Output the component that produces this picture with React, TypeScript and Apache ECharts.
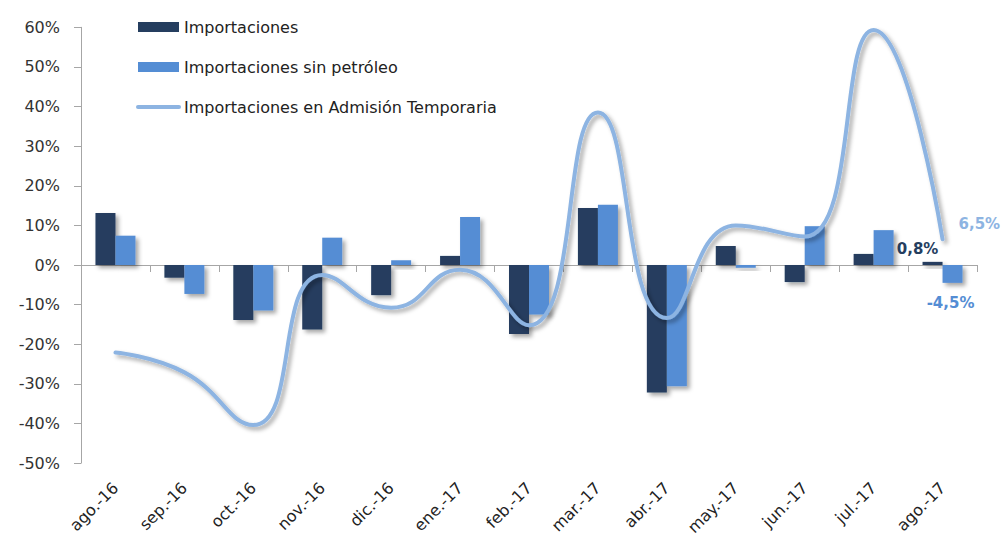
import React, { useEffect, useRef } from "react";
import * as echarts from "echarts";

const categories = [
  "ago.-16", "sep.-16", "oct.-16", "nov.-16", "dic.-16", "ene.-17", "feb.-17",
  "mar.-17", "abr.-17", "may.-17", "jun.-17", "jul.-17", "ago.-17",
];
const importaciones = [13.1, -3.2, -13.9, -16.3, -7.6, 2.3, -17.4, 14.4, -32.2, 4.8, -4.3, 2.8, 0.8];
const sinPetroleo = [7.4, -7.3, -11.5, 6.9, 1.2, 12.1, -12.5, 15.2, -30.6, -0.7, 9.8, 8.8, -4.5];
const admisionTemporaria = [-22.1, -27.1, -40.4, -2.5, -10.8, -1.2, -15.2, 38.5, -13.4, 10.0, 7.2, 59.3, 6.5];
const seriesNames = ["Importaciones", "Importaciones sin petróleo", "Importaciones en Admisión Temporaria"];

const C_DARK = "#253e5f";
const C_MID = "#548dd4";
const C_LINE = "#8db4e2";
const FONT = "DejaVu Sans";

const fmt = (v: number) => `${String(v).replace(".", ",")}%`;

const shadow = {
  shadowColor: "rgba(0,0,0,0.35)",
  shadowBlur: 4,
  shadowOffsetX: 3,
  shadowOffsetY: 3,
};

function withLastLabel(arr: number[], label: any) {
  return arr.map((v, i) =>
    i === arr.length - 1
      ? { value: v, label: { show: true, formatter: () => fmt(v), ...label } }
      : v
  );
}

export default function App() {
  const ref = useRef<HTMLDivElement>(null);
  useEffect(() => {
    if (!ref.current) return;
    const chart = echarts.init(ref.current, undefined, { renderer: "svg" });
    chart.setOption({
      animation: false,
      backgroundColor: "#ffffff",
      textStyle: { fontFamily: FONT },
      grid: { left: 81, right: 26, top: 27.3, bottom: 71.3, containLabel: false },
      legend: {
        orient: "vertical",
        left: 131,
        top: 14,
        itemWidth: 41,
        itemHeight: 10,
        itemGap: 24,
        textStyle: { fontFamily: FONT, fontSize: 16, lineHeight: 16, color: "#222" },
        data: [
          { name: seriesNames[0], icon: "rect" },
          { name: seriesNames[1], icon: "rect" },
          {
            name: seriesNames[2],
            itemStyle: { opacity: 0 },
            lineStyle: { width: 4, color: C_LINE },
          },
        ],
      },
      xAxis: [
        {
          type: "category",
          data: categories,
          axisLine: { show: true, onZero: true, lineStyle: { color: "#a6a6a6", width: 1 } },
          axisTick: { show: true, length: 7, lineStyle: { color: "#a6a6a6" } },
          axisLabel: { show: false },
          splitLine: { show: false },
        },
        {
          type: "category",
          data: categories,
          position: "bottom",
          axisLine: { show: false, onZero: false },
          axisTick: { show: false },
          axisLabel: {
            show: true,
            rotate: 45,
            margin: 22,
            interval: 0,
            fontFamily: FONT,
            fontSize: 16,
            color: "#222",
          },
          splitLine: { show: false },
        },
      ],
      yAxis: {
        type: "value",
        min: -50,
        max: 60,
        interval: 10,
        axisLine: { show: true, lineStyle: { color: "#a6a6a6", width: 1 } },
        axisTick: { show: true, length: 7, lineStyle: { color: "#a6a6a6" } },
        axisLabel: {
          formatter: (v: number) => `${v}%`,
          margin: 21,
          fontFamily: FONT,
          fontSize: 16,
          color: "#333",
        },
        splitLine: { show: false },
      },
      series: [
        {
          name: seriesNames[0],
          type: "bar",
          xAxisIndex: 0,
          barWidth: 20,
          barGap: "0%",
          itemStyle: { color: C_DARK, ...shadow },
          data: withLastLabel(importaciones, {
            position: "top",
            offset: [-15, 0],
            color: C_DARK,
            fontWeight: "bold",
            fontSize: 15,
            fontFamily: FONT,
          }),
          z: 2,
        },
        {
          name: seriesNames[1],
          type: "bar",
          xAxisIndex: 0,
          barWidth: 20,
          barGap: "0%",
          itemStyle: { color: C_MID, ...shadow },
          data: withLastLabel(sinPetroleo, {
            position: "bottom",
            offset: [-2, 8],
            color: C_MID,
            fontWeight: "bold",
            fontSize: 15,
            fontFamily: FONT,
          }),
          z: 2,
        },
        {
          name: seriesNames[2],
          type: "line",
          xAxisIndex: 0,
          smooth: 0.5,
          symbol: "none",
          showSymbol: false,
          lineStyle: { color: C_LINE, width: 4, cap: "round", ...shadow },
          itemStyle: { color: C_LINE },
          endLabel: {
            show: true,
            formatter: (p: any) => fmt(p.value),
            distance: 5,
            offset: [11, -15],
            color: C_LINE,
            fontWeight: "bold",
            fontSize: 15,
            fontFamily: FONT,
          },
          data: admisionTemporaria,
          z: 3,
        },
      ],
    });
    return () => chart.dispose();
  }, []);
  return (
    <div
      ref={ref}
      style={{ position: "fixed", left: 0, top: 0, width: 1003, height: 538 }}
    />
  );
}
